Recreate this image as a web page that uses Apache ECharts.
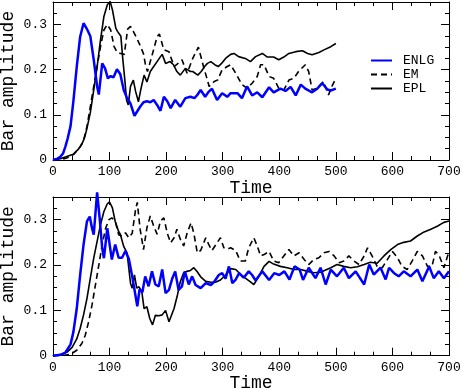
<!DOCTYPE html>
<html>
<head>
<meta charset="utf-8">
<script src="https://cdn.jsdelivr.net/npm/echarts@6/dist/echarts.min.js"></script>
<style>
  html, body { margin: 0; padding: 0; background: #fff; }
  #chart { width: 463px; height: 390px; }
</style>
</head>
<body>
<div id="chart"></div>
<script>
// top panel, [time, amplitude]
const enlgTop = [[0,0],[8,0.003],[13,0.007],[18,0.015],[22,0.03],[26,0.048],[31,0.075],[36,0.13],[42,0.207],[48,0.273],[54,0.303],[60,0.29],[66,0.274],[72,0.222],[78,0.163],[81,0.145],[87,0.214],[92,0.203],[97,0.181],[102,0.186],[107,0.183],[113,0.201],[119,0.19],[125,0.155],[130,0.14],[137,0.125],[144,0.098],[154,0.118],[160,0.128],[166,0.13],[172,0.128],[178,0.133],[184,0.122],[190,0.109],[196,0.14],[202,0.13],[208,0.115],[216,0.133],[225,0.118],[234,0.137],[243,0.14],[250,0.137],[255,0.144],[261,0.155],[269,0.14],[275,0.151],[281,0.158],[290,0.133],[299,0.148],[308,0.14],[314,0.148],[326,0.148],[334,0.137],[343,0.163],[352,0.143],[361,0.15],[370,0.139],[382,0.161],[390,0.15],[402,0.158],[411,0.153],[420,0.162],[429,0.143],[438,0.167],[446,0.158],[458,0.15],[467,0.158],[476,0.17],[485,0.156],[491,0.154],[500,0.158]];
const emTop = [[0,0],[20,0.003],[30,0.007],[37,0.013],[48,0.029],[54,0.044],[60,0.074],[66,0.118],[72,0.163],[78,0.207],[84,0.251],[90,0.288],[96,0.3],[102,0.288],[108,0.251],[114,0.237],[120,0.236],[126,0.234],[132,0.29],[137,0.296],[142,0.285],[148,0.27],[155,0.251],[160,0.235],[164,0.207],[167,0.196],[176,0.236],[184,0.273],[188,0.279],[196,0.244],[205,0.24],[214,0.207],[219,0.212],[228,0.222],[237,0.192],[247,0.225],[257,0.25],[266,0.207],[272,0.181],[276,0.163],[285,0.174],[291,0.177],[299,0.2],[308,0.207],[314,0.211],[323,0.192],[334,0.167],[343,0.159],[352,0.17],[361,0.185],[367,0.211],[373,0.211],[382,0.185],[390,0.181],[399,0.159],[408,0.155],[417,0.177],[426,0.181],[434,0.196],[446,0.211],[452,0.196],[458,0.155],[467,0.159],[478,0.174],[487,0.144],[493,0.163],[500,0.181]];
const eplTop = [[0,0],[13,0.003],[23,0.007],[36,0.013],[45,0.024],[51,0.035],[56,0.05],[60,0.07],[66,0.105],[72,0.155],[78,0.207],[84,0.266],[90,0.318],[96,0.344],[101,0.351],[105,0.333],[111,0.292],[114,0.285],[117,0.288],[120,0.274],[123,0.229],[127,0.177],[130,0.133],[133,0.122],[137,0.163],[142,0.177],[146,0.152],[151,0.129],[155,0.155],[161,0.188],[166,0.173],[172,0.196],[178,0.207],[184,0.218],[190,0.229],[193,0.234],[199,0.214],[207,0.218],[213,0.211],[219,0.196],[225,0.188],[234,0.203],[243,0.196],[247,0.196],[256,0.188],[262,0.196],[268,0.207],[273,0.214],[279,0.218],[286,0.211],[292,0.207],[298,0.214],[305,0.225],[314,0.234],[320,0.236],[328,0.229],[340,0.225],[349,0.218],[358,0.229],[370,0.236],[379,0.228],[390,0.228],[399,0.222],[408,0.228],[417,0.236],[429,0.24],[441,0.242],[450,0.236],[458,0.233],[470,0.238],[479,0.244],[491,0.251],[500,0.258]];

// bottom panel
const enlgBot = [[0,0],[13,0.002],[22,0.007],[31,0.025],[36,0.052],[42,0.104],[48,0.178],[54,0.245],[60,0.296],[65,0.307],[69,0.281],[72,0.267],[78,0.36],[83,0.296],[87,0.237],[90,0.215],[96,0.281],[99,0.28],[104,0.212],[110,0.245],[116,0.216],[122,0.216],[128,0.231],[134,0.214],[140,0.175],[143,0.153],[149,0.109],[153,0.146],[158,0.14],[163,0.175],[169,0.153],[175,0.186],[181,0.157],[187,0.153],[193,0.19],[199,0.138],[205,0.145],[211,0.171],[216,0.186],[222,0.145],[228,0.153],[233,0.186],[240,0.157],[246,0.175],[252,0.156],[261,0.149],[270,0.16],[279,0.156],[285,0.163],[293,0.178],[299,0.182],[305,0.17],[311,0.197],[317,0.16],[323,0.168],[329,0.182],[337,0.172],[346,0.186],[352,0.178],[358,0.166],[370,0.186],[382,0.167],[391,0.182],[400,0.178],[409,0.186],[418,0.168],[427,0.197],[436,0.19],[442,0.167],[452,0.194],[464,0.171],[473,0.194],[482,0.157],[491,0.19],[502,0.175],[514,0.194],[523,0.171],[535,0.186],[550,0.157],[559,0.201],[567,0.179],[579,0.194],[588,0.168],[594,0.194],[603,0.182],[611,0.175],[620,0.186],[632,0.175],[644,0.19],[653,0.164],[665,0.197],[673,0.171],[682,0.186],[691,0.171],[700,0.186]];
const emBot = [[0,0],[20,0.001],[31,0.003],[42,0.012],[51,0.027],[57,0.045],[63,0.075],[69,0.112],[75,0.156],[81,0.2],[87,0.245],[93,0.281],[99,0.3],[104,0.304],[110,0.297],[116,0.267],[122,0.264],[128,0.271],[134,0.26],[140,0.27],[146,0.323],[149,0.338],[154,0.279],[160,0.234],[166,0.282],[172,0.308],[178,0.286],[184,0.268],[190,0.297],[196,0.304],[202,0.27],[208,0.249],[214,0.26],[219,0.279],[225,0.257],[231,0.242],[237,0.27],[244,0.293],[249,0.27],[255,0.227],[261,0.232],[270,0.26],[275,0.246],[281,0.232],[290,0.249],[296,0.26],[302,0.238],[308,0.235],[314,0.238],[323,0.232],[331,0.209],[340,0.209],[346,0.238],[355,0.26],[361,0.242],[367,0.22],[373,0.223],[382,0.23],[390,0.209],[399,0.205],[408,0.22],[417,0.234],[426,0.22],[435,0.227],[444,0.212],[452,0.201],[461,0.212],[470,0.216],[479,0.227],[488,0.23],[497,0.22],[506,0.205],[514,0.209],[523,0.22],[532,0.209],[541,0.201],[550,0.22],[556,0.238],[564,0.22],[573,0.197],[582,0.194],[591,0.212],[600,0.23],[609,0.216],[617,0.197],[626,0.19],[635,0.209],[644,0.23],[653,0.22],[662,0.197],[670,0.197],[676,0.23],[682,0.223],[691,0.194],[700,0.23]];
const eplBot = [[0,0],[13,0.002],[25,0.008],[34,0.019],[42,0.037],[48,0.06],[54,0.09],[60,0.126],[66,0.171],[72,0.215],[78,0.252],[84,0.289],[90,0.318],[96,0.335],[100,0.339],[105,0.326],[110,0.296],[116,0.274],[119,0.268],[125,0.241],[131,0.226],[134,0.193],[137,0.16],[140,0.149],[144,0.178],[148,0.149],[152,0.152],[157,0.141],[161,0.104],[166,0.108],[171,0.082],[176,0.068],[181,0.089],[187,0.088],[193,0.09],[199,0.1],[205,0.075],[214,0.104],[220,0.134],[225,0.163],[231,0.183],[237,0.186],[243,0.188],[249,0.194],[255,0.185],[261,0.174],[270,0.164],[279,0.162],[287,0.162],[296,0.167],[305,0.178],[314,0.192],[323,0.19],[332,0.179],[340,0.171],[349,0.163],[355,0.157],[364,0.175],[373,0.197],[382,0.208],[390,0.202],[402,0.197],[414,0.194],[426,0.19],[438,0.19],[450,0.186],[461,0.183],[473,0.184],[491,0.194],[502,0.201],[514,0.197],[526,0.194],[538,0.196],[550,0.201],[561,0.206],[573,0.204],[585,0.22],[597,0.234],[609,0.245],[620,0.25],[632,0.253],[644,0.264],[656,0.273],[668,0.279],[680,0.286],[691,0.294],[700,0.297]];

const seriesNames = ['ENLG', 'EM', 'EPL'];
const FONT = 'Liberation Mono';

const chart = echarts.init(document.getElementById('chart'));

function xAxes(grid) {
  const base = {
    gridIndex: grid, type: 'value', min: 0, max: 700, interval: 100,
    axisLine: { show: true, onZero: false, lineStyle: { color: '#000', width: 1 } },
    axisTick: { show: true, inside: true, length: 8, lineStyle: { color: '#000' } },
    minorTick: { show: true, splitNumber: 3, length: 4, lineStyle: { color: '#000' } },
    splitLine: { show: false }
  };
  return [
    Object.assign({}, base, {
      position: 'bottom',
      axisLabel: { fontFamily: FONT, fontSize: 13, color: '#000', margin: 5 },
      name: 'Time', nameLocation: 'middle', nameGap: 19, nameMoveOverlap: false,
      nameTextStyle: { fontFamily: FONT, fontSize: 18, color: '#000' }
    }),
    Object.assign({}, base, { position: 'top', axisLabel: { show: false } })
  ];
}

function yAxes(grid) {
  const base = {
    gridIndex: grid, type: 'value', min: 0, max: 0.35, interval: 0.1,
    axisLine: { show: true, onZero: false, lineStyle: { color: '#000', width: 1 } },
    axisTick: { show: true, inside: true, length: 8, lineStyle: { color: '#000' } },
    minorTick: { show: true, splitNumber: 4, length: 4, lineStyle: { color: '#000' } },
    splitLine: { show: false }
  };
  return [
    Object.assign({}, base, {
      position: 'left',
      axisLabel: { fontFamily: FONT, fontSize: 13, color: '#000', margin: 6, showMaxLabel: false,
        formatter: v => (v === 0 ? '0' : v.toFixed(1)) },
      name: 'Bar amplitude', nameLocation: 'middle', nameGap: 36, nameMoveOverlap: false,
      nameTextStyle: { fontFamily: FONT, fontSize: 18, color: '#000' }
    }),
    Object.assign({}, base, { position: 'right', axisLabel: { show: false } })
  ];
}

function lines(grid, data) {
  const styles = [
    { color: '#0000ff', width: 2.5, type: 'solid' },
    { color: '#000', width: 1.6, type: [6, 4] },
    { color: '#000', width: 1.6, type: 'solid' }
  ];
  return data.map((d, i) => ({
    name: seriesNames[i], type: 'line', xAxisIndex: grid * 2, yAxisIndex: grid * 2,
    data: d, symbol: 'none', smooth: false, clip: false, z: i === 0 ? 3 : 2,
    lineStyle: styles[i], itemStyle: { color: styles[i].color }
  }));
}

chart.setOption({
  animation: false,
  backgroundColor: '#fff',
  grid: [
    { left: 53, top: 2, width: 396, height: 158, outerBoundsMode: 'none', containLabel: false },
    { left: 53, top: 197, width: 396, height: 158.7, outerBoundsMode: 'none', containLabel: false }
  ],
  legend: {
    orient: 'vertical', left: 370, top: 54, padding: 0, itemWidth: 21, itemHeight: 10, itemGap: 1,
    data: seriesNames,
    itemStyle: { opacity: 0 },
    textStyle: { fontFamily: FONT, fontSize: 13, color: '#000', lineHeight: 13, padding: [0, 0, 0, 6] }
  },
  xAxis: xAxes(0).concat(xAxes(1)),
  yAxis: yAxes(0).concat(yAxes(1)),
  series: lines(0, [enlgTop, emTop, eplTop]).concat(lines(1, [enlgBot, emBot, eplBot]))
});
</script>
</body>
</html>
